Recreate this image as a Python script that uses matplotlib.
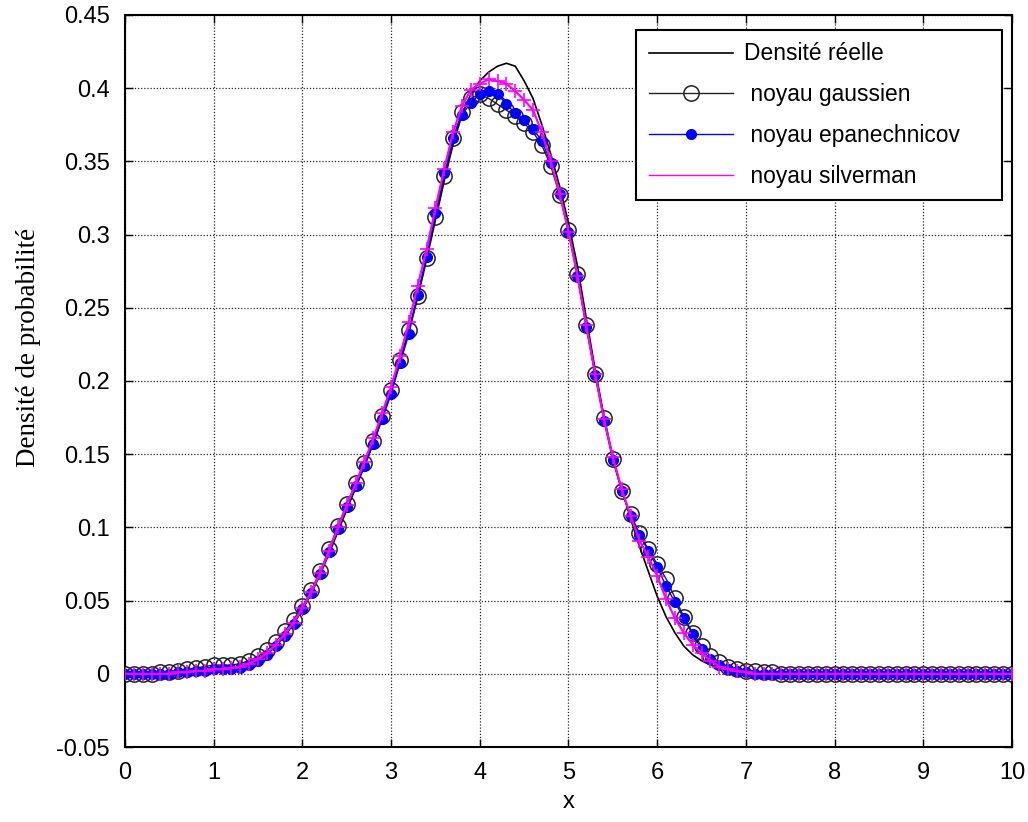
import numpy as np
import matplotlib
matplotlib.use('Agg')
import matplotlib.pyplot as plt

# sample grid (step 0.1 from 0 to 10)
x = np.linspace(0, 10, 101)

zeros_tail = [0.0] * 26  # x = 7.5 .. 10.0

dens_reelle = [0.000, 0.000, 0.000, 0.001, 0.001,
               0.002, 0.002, 0.003, 0.003, 0.004,
               0.004, 0.004, 0.004, 0.005, 0.007,
               0.010, 0.014, 0.019, 0.026, 0.034,
               0.044, 0.055, 0.068, 0.082, 0.097,
               0.112, 0.127, 0.142, 0.158, 0.175,
               0.193, 0.213, 0.234, 0.257, 0.283,
               0.310, 0.337, 0.362, 0.382, 0.396,
               0.405, 0.411, 0.415, 0.417, 0.415,
               0.405, 0.393, 0.375, 0.355, 0.333,
               0.308, 0.279, 0.243, 0.208, 0.176,
               0.148, 0.126, 0.106, 0.087, 0.070,
               0.053, 0.039, 0.028, 0.019, 0.013,
               0.009, 0.006, 0.004, 0.003, 0.002,
               0.001, 0.000, 0.000, 0.000, 0.000] + zeros_tail

noyau_gauss = [0.000, 0.000, 0.000, 0.000, 0.001,
               0.001, 0.002, 0.003, 0.004, 0.005,
               0.006, 0.006, 0.006, 0.007, 0.009,
               0.012, 0.016, 0.022, 0.029, 0.037,
               0.046, 0.057, 0.070, 0.085, 0.101,
               0.116, 0.130, 0.144, 0.159, 0.176,
               0.194, 0.214, 0.235, 0.258, 0.284,
               0.312, 0.340, 0.366, 0.384, 0.393,
               0.396, 0.393, 0.389, 0.385, 0.381,
               0.376, 0.370, 0.361, 0.347, 0.327,
               0.303, 0.273, 0.238, 0.205, 0.175,
               0.147, 0.125, 0.109, 0.096, 0.085,
               0.075, 0.065, 0.052, 0.039, 0.028,
               0.019, 0.012, 0.008, 0.005, 0.003,
               0.002, 0.002, 0.001, 0.001, 0.000] + zeros_tail

noyau_epan = [0.000, 0.000, 0.000, 0.000, 0.000,
              0.000, 0.001, 0.001, 0.002, 0.002,
              0.003, 0.003, 0.003, 0.004, 0.006,
              0.009, 0.013, 0.019, 0.026, 0.034,
              0.044, 0.055, 0.068, 0.083, 0.099,
              0.114, 0.128, 0.142, 0.157, 0.174,
              0.191, 0.212, 0.232, 0.259, 0.285,
              0.315, 0.342, 0.366, 0.382, 0.390,
              0.396, 0.398, 0.396, 0.389, 0.383,
              0.378, 0.372, 0.364, 0.349, 0.328,
              0.302, 0.272, 0.237, 0.204, 0.173,
              0.146, 0.125, 0.108, 0.095, 0.084,
              0.073, 0.060, 0.049, 0.038, 0.027,
              0.017, 0.010, 0.006, 0.003, 0.002,
              0.001, 0.000, 0.000, 0.000, 0.000] + zeros_tail

noyau_silv = [0.000, 0.000, 0.000, 0.000, 0.000,
              0.000, 0.001, 0.001, 0.002, 0.002,
              0.003, 0.003, 0.004, 0.005, 0.007,
              0.010, 0.014, 0.020, 0.027, 0.035,
              0.045, 0.056, 0.069, 0.084, 0.100,
              0.115, 0.130, 0.145, 0.161, 0.178,
              0.196, 0.217, 0.240, 0.265, 0.290,
              0.318, 0.345, 0.370, 0.388, 0.399,
              0.403, 0.406, 0.405, 0.403, 0.398,
              0.392, 0.385, 0.370, 0.350, 0.328,
              0.302, 0.272, 0.238, 0.205, 0.174,
              0.148, 0.126, 0.108, 0.091, 0.080,
              0.067, 0.051, 0.038, 0.028, 0.020,
              0.014, 0.009, 0.005, 0.003, 0.002,
              0.001, 0.000, 0.000, 0.000, 0.000] + zeros_tail

labels = ['Densité réelle', ' noyau gaussien', ' noyau epanechnicov', ' noyau silverman']

plt.rcParams['font.family'] = ['Liberation Sans', 'DejaVu Sans']

fig = plt.figure(figsize=(10.28, 8.22), dpi=100)
ax = fig.add_axes([0.1216, 0.0912, 0.8628, 0.8906])

ax.plot(x, dens_reelle, '-', color='k', lw=1.2, label=labels[0], zorder=3)
ax.plot(x, noyau_gauss, '-', color='#222222', lw=1.0, marker='o', ms=11,
        mfc='none', mec='#222222', mew=1.1, label=labels[1], zorder=2)
ax.plot(x, noyau_epan, '-', color='blue', lw=1.0, marker='o', ms=7,
        mfc='blue', mec='blue', label=labels[2], zorder=4)
ax.plot(x, noyau_silv, '-', color='magenta', lw=1.0, label=labels[3], zorder=5)
ax.plot(x, noyau_silv, 'none', marker='+', ms=10, mew=1.2, color='magenta', zorder=5)

ax.set_xlim(0, 10)
ax.set_ylim(-0.05, 0.45)
ax.set_xticks(np.arange(0, 11, 1))
ax.set_yticks([-0.05, 0, 0.05, 0.1, 0.15, 0.2, 0.25, 0.3, 0.35, 0.4, 0.45])
ax.set_yticklabels(['-0.05', '0', '0.05', '0.1', '0.15', '0.2', '0.25', '0.3', '0.35', '0.4', '0.45'])
ax.tick_params(direction='in', length=6, width=1, top=True, right=True,
               labelsize=17, colors='k')
ax.tick_params(axis='y', pad=11)
ax.tick_params(axis='x', pad=11)
ax.grid(True, color='k', linestyle=(0, (1, 1.5)), linewidth=0.9, alpha=0.85)
for sp in ax.spines.values():
    sp.set_linewidth(1.5)

ax.set_xlabel('x', fontsize=17, labelpad=5)
ax.set_ylabel('Densité de probabilité', fontsize=19.5, family='Liberation Serif')
ax.yaxis.set_label_coords(-0.095, 0.546)

# legend box stretched to a fixed width, text left-aligned inside
leg = ax.legend(loc='upper left', bbox_to_anchor=(0.5761, 0.5, 0.4126, 0.4795),
                mode='expand', borderaxespad=0, fontsize=16.4, fancybox=False,
                framealpha=1, edgecolor='k', handlelength=3.7, handletextpad=0.5,
                labelspacing=0.78, borderpad=0.55)
leg.get_frame().set_linewidth(1.5)

fig.savefig('out.png', dpi=100)
